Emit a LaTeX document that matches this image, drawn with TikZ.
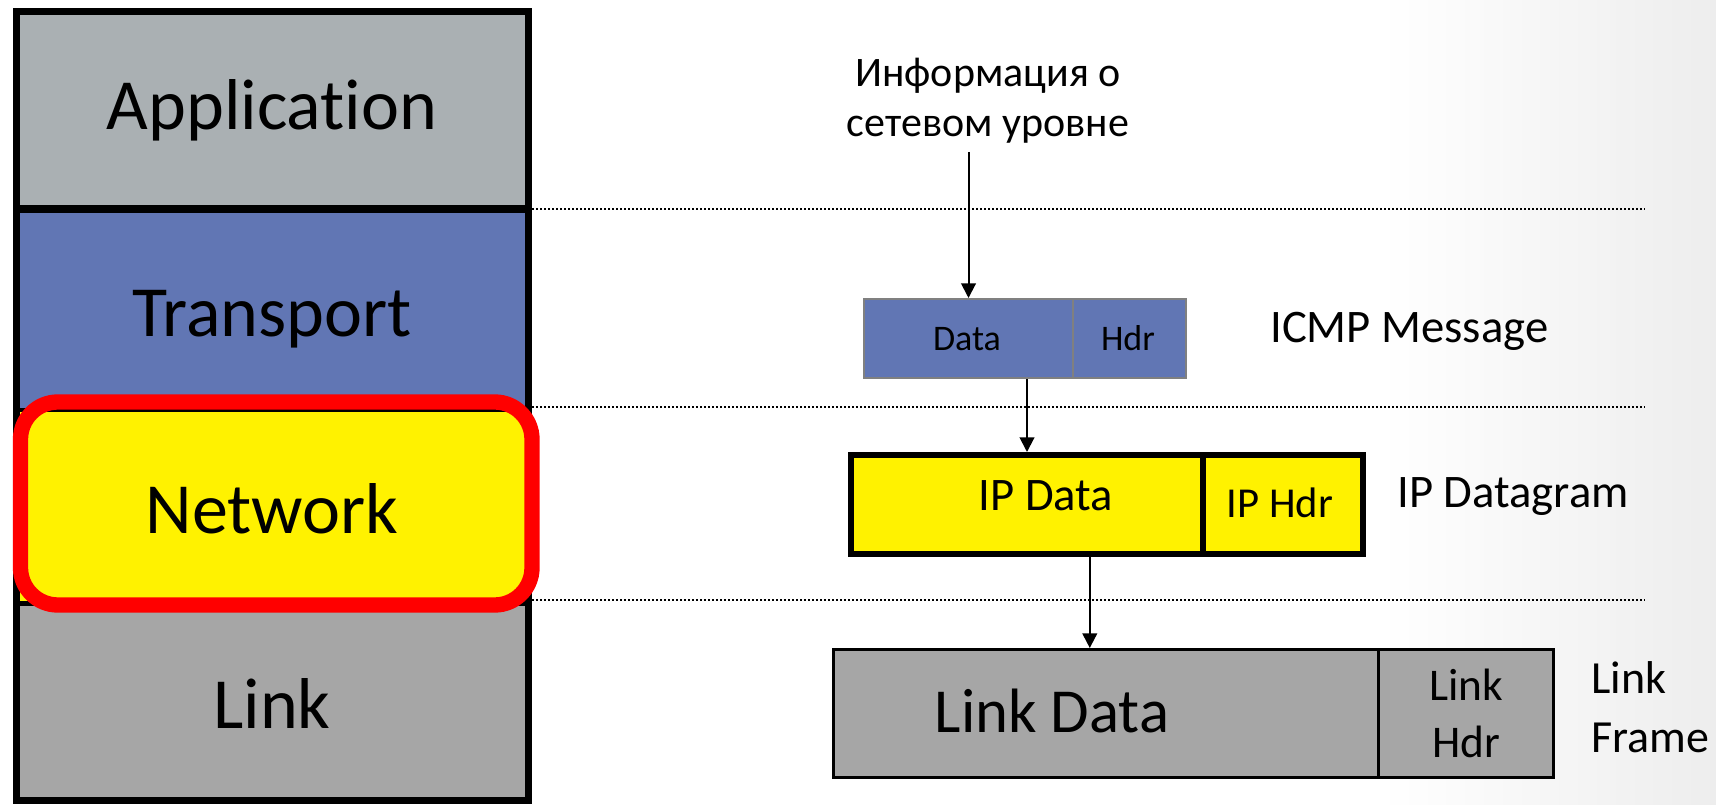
\documentclass[tikz,border=0pt]{standalone}
\usepackage{fontspec}
\setmainfont{Carlito}[Ligatures={NoCommon}]
\usetikzlibrary{arrows.meta,calc}

\definecolor{appgray}{RGB}{170,176,179}
\definecolor{tblue}{RGB}{97,118,180}
\definecolor{linkgray}{RGB}{166,166,166}
\definecolor{boxedge}{RGB}{128,128,128}

\begin{document}
\begin{tikzpicture}[x=0.75pt,y=-0.75pt,
  layerbox/.style={anchor=north west, minimum width=384pt, minimum height=148pt,
    inner sep=0pt, outer sep=0pt, text height=42pt, text depth=2pt,
    font=\fontsize{54}{60}\selectfont},
  icmpcell/.style={anchor=north west, draw=boxedge, fill=tblue, line width=1.5pt,
    minimum height=59.25pt, inner sep=0pt},
  ipcell/.style={anchor=north west, draw=black, fill=yellow, line width=4.5pt,
    minimum height=74.25pt, inner sep=0pt},
  linkcell/.style={anchor=north west, draw=black, fill=linkgray, line width=2.6pt,
    minimum height=96pt, inner sep=0pt},
  lbl/.style={inner sep=0pt},
  arr/.style={line width=1.5pt, -{Triangle[length=11pt,width=11pt]}},
  sepline/.style={line width=1.4pt, dash pattern=on 1.4pt off 1.6pt},
]
% canvas
\useasboundingbox (0,0) rectangle (1716,805);
\fill[white] (0,0) rectangle (1716,805);
\shade[left color=white, right color=black!7] (1380,0) rectangle (1716,805);

% dotted layer boundaries
\coordinate (sepend) at (1645,0);
\coordinate (cut1) at (532,209);
\coordinate (cut2) at (532,407);
\coordinate (cut3) at (532,600);
\draw[sepline] (cut1) -- (cut1 -| sepend);
\draw[sepline] (cut2) -- (cut2 -| sepend);
\draw[sepline] (cut3) -- (cut3 -| sepend);

% protocol stack
\node[layerbox, fill=appgray, text height=36pt, text depth=6.6pt] (app) at (16,11.5) {Application};
\node[layerbox, fill=tblue, minimum height=150.9pt] (trans) at (16,208.8) {Transport};
\node[layerbox, fill=yellow, minimum height=145.2pt] (net) at (16,410) {Network};
\node[layerbox, fill=linkgray] (lnk) at (16,603.6) {Link};
\draw[line width=5.25pt] (app.north west) rectangle (lnk.south east);
\draw[line width=6pt] (app.south west) -- (app.south east);
\draw[line width=3pt] (trans.south west) -- (trans.south east);
\draw[line width=4pt] (net.south west) -- (net.south east);
\draw[red, line width=11.5pt, rounded corners=28pt] (20.5,402) rectangle (532,605);

% information passed down
\node[lbl, align=center, font=\fontsize{31.5}{37.5}\selectfont] (info) at (988,101)
  {Информация о\\сетевом уровне};

% ICMP message
\node[icmpcell, minimum width=156.75pt] (icmpdata) at (863,298) {};
\node[icmpcell, minimum width=84.75pt] (icmphdr) at (1072,298) {};
\node[lbl, anchor=base, font=\fontsize{27}{32}\selectfont] (tdata) at (967,350) {Data};
\node[lbl, anchor=base, font=\fontsize{27}{32}\selectfont] (thdr) at (1128,350) {Hdr};
\node[lbl, anchor=base west, font=\fontsize{35}{42}\selectfont] (icmplabel) at (1270,343) {ICMP Message};

% IP datagram
\node[ipcell, minimum width=264pt] (ipdata) at (848,452) {};
\node[ipcell, minimum width=120pt] (iphdr) at (1200,452) {};
\node[lbl, anchor=base, font=\fontsize{35}{42}\selectfont] (tipdata) at (1046,510) {IP Data};
\node[lbl, anchor=base, font=\fontsize{32}{38}\selectfont] (tiphdr) at (1280,517) {IP Hdr};
\node[lbl, anchor=base west, font=\fontsize{35}{42}\selectfont] (iplabel) at (1397,507) {IP Datagram};

% link frame
\node[linkcell, minimum width=408.75pt] (linkdata) at (832,648) {};
\node[linkcell, minimum width=131.25pt, align=center,
  font=\fontsize{34}{43}\selectfont] (linkhdr) at (1377,648) {Link\\Hdr};
\node[lbl, anchor=base, font=\fontsize{47}{56}\selectfont] (tlinkdata) at (1052,732) {Link Data};
\node[lbl, anchor=west, align=left, font=\fontsize{34.5}{44}\selectfont] (framelabel) at (1591,707) {Link\\Frame};

% encapsulation arrows
\coordinate (infofoot) at ($(info.south)+(0,8)$);
\draw[arr] (infofoot -| icmpdata.north) -- (icmpdata.north);
\draw[arr] (icmpdata.south -| ipdata.north) -- (ipdata.north);
\coordinate (drop) at ($(linkdata.north west)!0.47!(linkdata.north east)$);
\draw[arr] (drop |- ipdata.south) -- (drop);
\end{tikzpicture}
\end{document}
